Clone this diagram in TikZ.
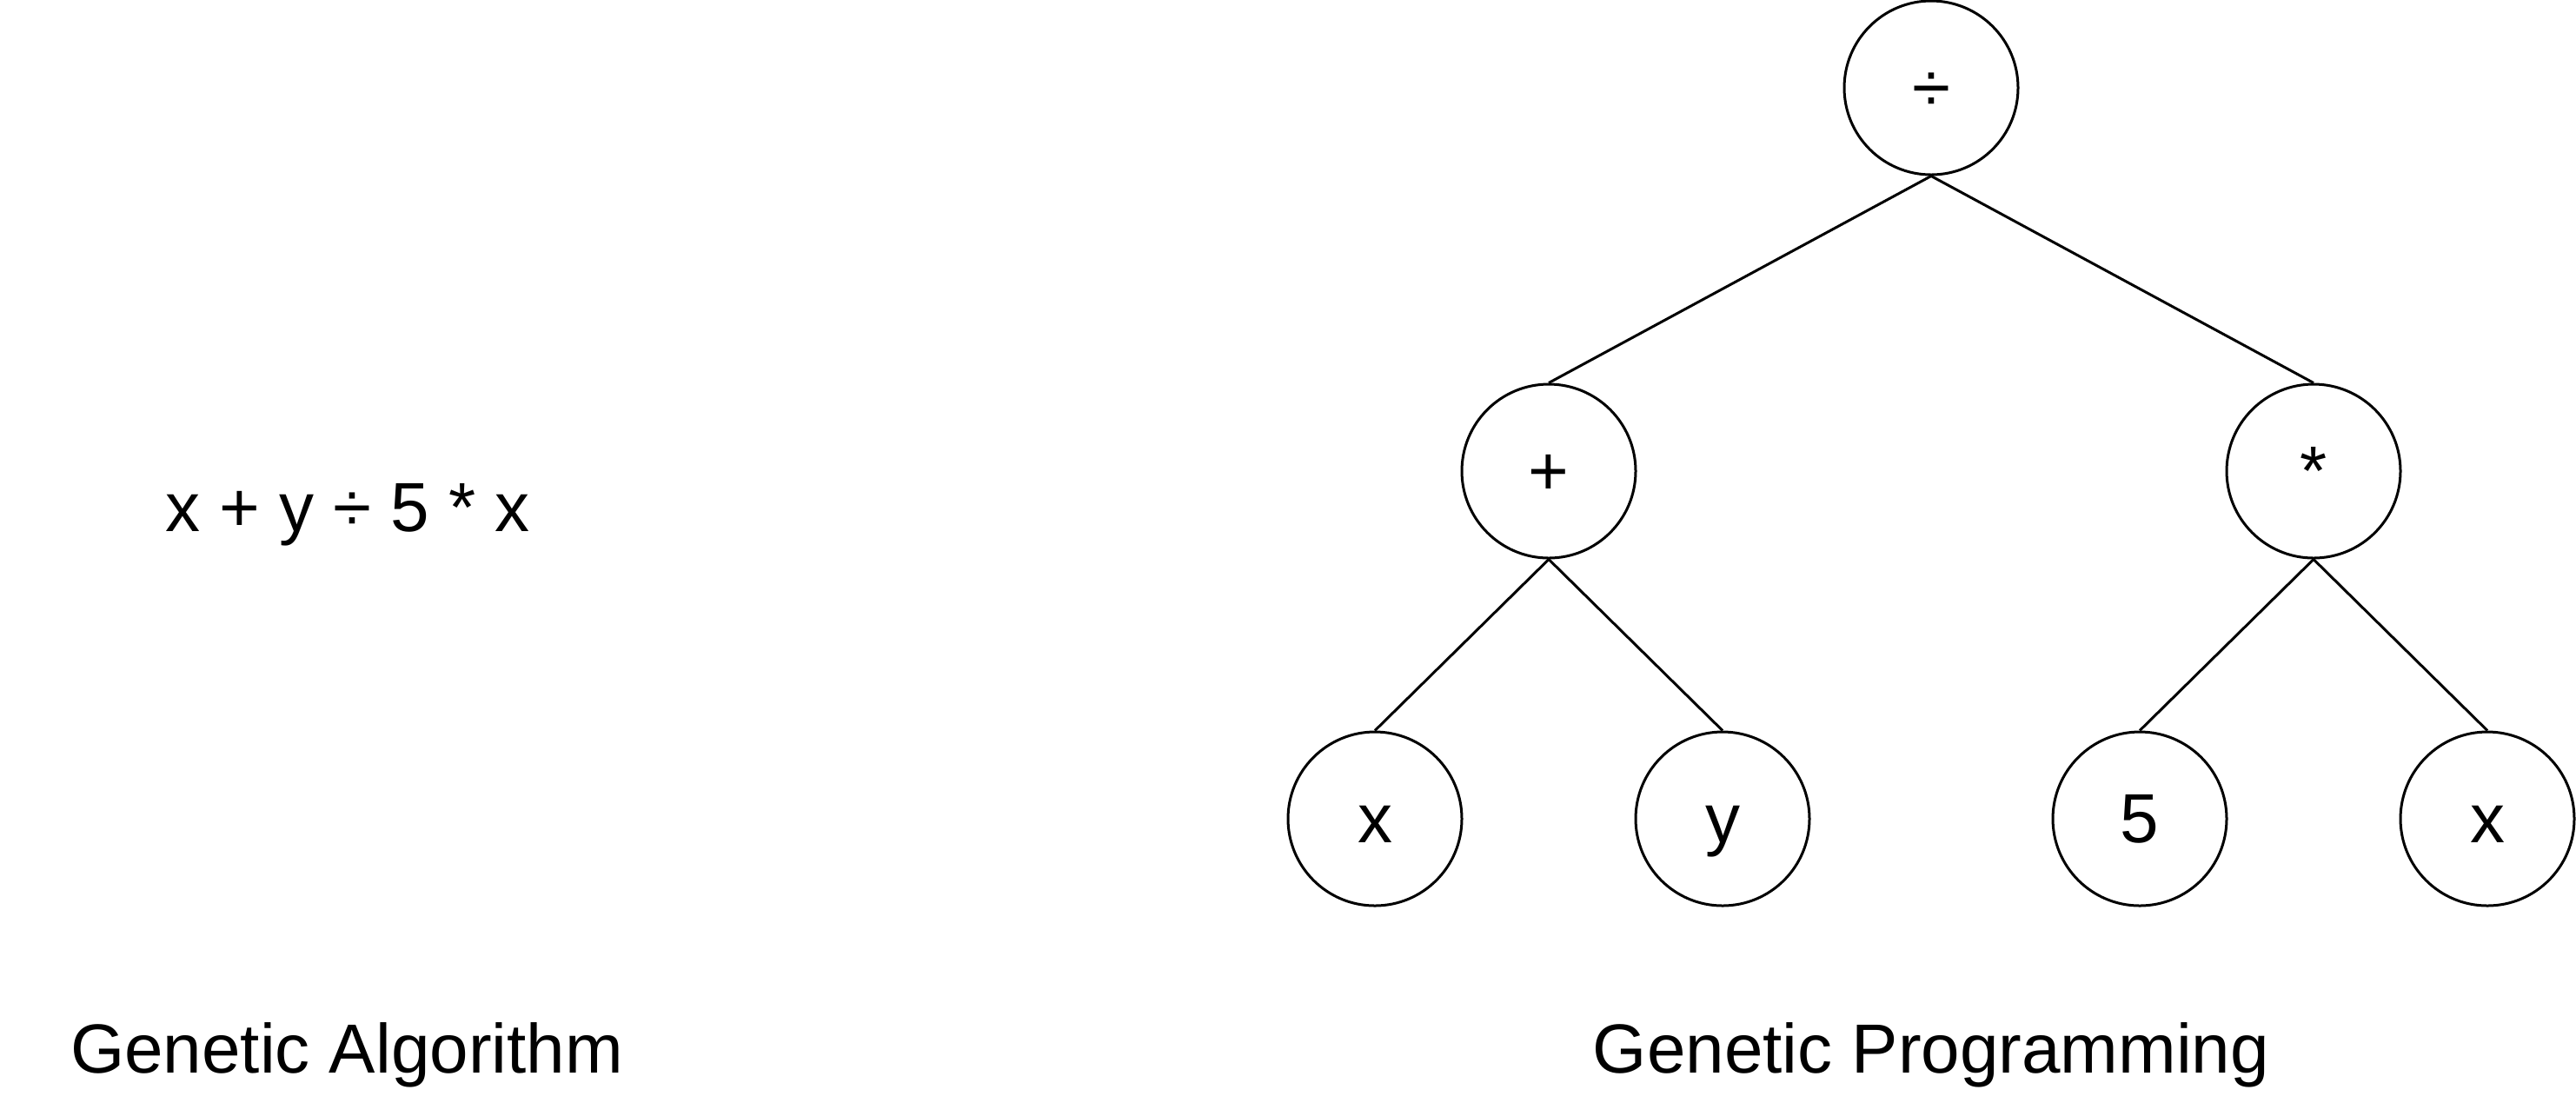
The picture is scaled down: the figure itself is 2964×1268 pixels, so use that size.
\documentclass[tikz,border=0pt]{standalone}
\usepackage{fontspec}
\setmainfont{Liberation Sans}
\begin{document}
\begin{tikzpicture}[x=0.25pt,y=-0.25pt,
  every node/.style={font=\fontsize{20pt}{24pt}\selectfont, inner sep=0pt, text height=18.93pt, text depth=5.07pt},
  tnode/.style={circle, draw, line width=0.75pt, minimum size=50pt},
  edge/.style={line width=0.75pt}]
\useasboundingbox (0,0) rectangle (2964,1268);
\node[tnode] (root) at (2222,101) {÷};
\node[tnode] (plus) at (1782,542) {+};
\node[tnode] (mul) at (2662,542) {*};
\node[tnode] (x1) at (1582,942) {x};
\node[tnode] (y1) at (1982,942) {y};
\node[tnode] (five) at (2462,942) {5};
\node[tnode] (x2) at (2862,942) {x};
\draw[edge] (root.south) -- (plus.north);
\draw[edge] (root.south) -- (mul.north);
\draw[edge] (plus.south) -- (x1.north);
\draw[edge] (plus.south) -- (y1.north);
\draw[edge] (mul.south) -- (five.north);
\draw[edge] (mul.south) -- (x2.north);
\node (expr) at (400,584) {x + y ÷ 5 * x};
\node (ga) at (399,1207) {Genetic Algorithm};
\node (gp) at (2222,1207) {Genetic Programming};
\end{tikzpicture}
\end{document}
